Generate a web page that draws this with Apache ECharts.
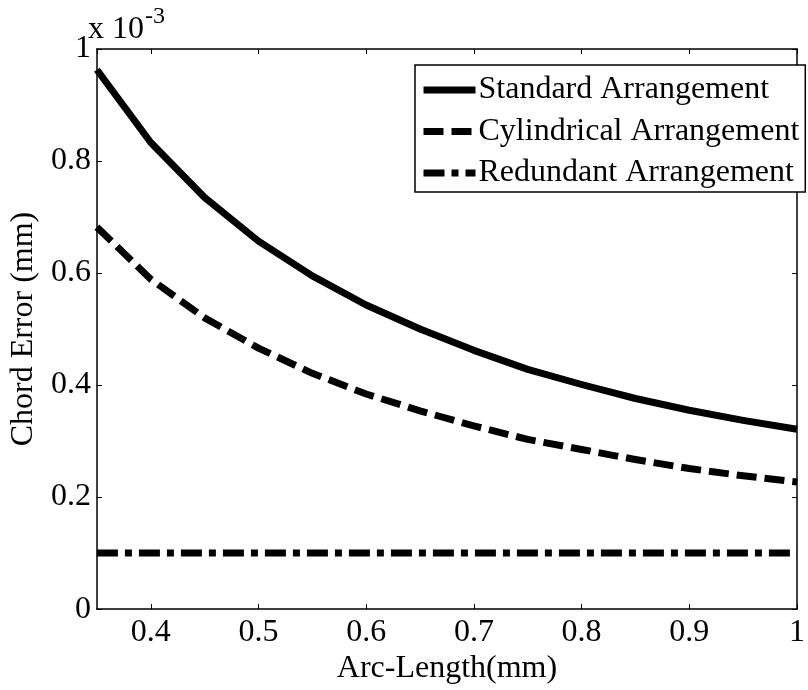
<!DOCTYPE html>
<html>
<head>
<meta charset="utf-8">
<script src="https://cdn.jsdelivr.net/npm/echarts@6/dist/echarts.min.js"></script>
<style>
  html, body { margin: 0; padding: 0; background: #fff; }
  #chart { width: 808px; height: 690px; }
</style>
</head>
<body>
<div id="chart"></div>
<script>
// Arc length of the segment (mm)
const arcLength = [0.35, 0.40, 0.45, 0.50, 0.55, 0.60, 0.65, 0.70, 0.75, 0.80, 0.85, 0.90, 0.95, 1.00];
// Chord error, in units of 1e-3 mm
const standardErr    = [0.963, 0.833, 0.735, 0.657, 0.595, 0.543, 0.500, 0.462, 0.428, 0.401, 0.376, 0.355, 0.337, 0.321];
const cylindricalErr = [0.682, 0.589, 0.520, 0.466, 0.421, 0.384, 0.354, 0.327, 0.303, 0.285, 0.267, 0.251, 0.238, 0.227];
const redundantErr   = [0.100, 0.100, 0.100, 0.100, 0.100, 0.100, 0.100, 0.100, 0.100, 0.100, 0.100, 0.100, 0.100, 0.100];
const seriesNames = ['Standard Arrangement', 'Cylindrical Arrangement', 'Redundant Arrangement'];
const yTicks = [0, 0.2, 0.4, 0.6, 0.8, 1];

const FONT = 'Liberation Serif, Times New Roman, serif';
const FS = 32;
const pairs = (ys) => arcLength.map((x, i) => [x, ys[i]]);

const chart = echarts.init(document.getElementById('chart'), null, { renderer: 'canvas' });

const axisBase = {
  axisLine: { show: true, onZero: false, lineStyle: { color: '#000', width: 1.5 } },
  axisTick: { show: true, inside: true, length: 5, lineStyle: { color: '#000', width: 1 } },
  splitLine: { show: false }
};

const lineSeries = (name, ys, type) => ({
  name,
  type: 'line',
  data: pairs(ys),
  symbol: 'none',
  smooth: false,
  lineStyle: { color: '#000', width: 7, type, cap: 'butt', join: 'round' },
  itemStyle: { color: '#000' },
  animation: false
});

chart.setOption({
  animation: false,
  backgroundColor: '#fff',
  textStyle: { fontFamily: FONT, color: '#000' },
  grid: { left: 88, right: 5, top: 49, bottom: 78, containLabel: false },
  graphic: [
    { type: 'text', left: 88, top: 14, style: { text: 'x 10', font: FS + 'px ' + FONT, fill: '#000' } },
    { type: 'text', left: 145, top: 5, style: { text: '-3', font: '24px ' + FONT, fill: '#000' } }
  ],
  xAxis: [
    Object.assign({}, axisBase, {
      type: 'value', position: 'bottom', min: 0.35, max: 1, splitNumber: 6,
      name: 'Arc-Length(mm)', nameLocation: 'middle', nameGap: 37,
      nameTextStyle: { fontSize: FS, fontFamily: FONT, color: '#000' },
      axisLabel: { fontSize: FS, fontFamily: FONT, color: '#000', margin: 7, showMinLabel: false,
        formatter: (v) => (Math.abs(v - 0.35) < 1e-6 ? '' : String(+v.toFixed(2))) }
    }),
    Object.assign({}, axisBase, {
      type: 'value', position: 'top', min: 0.35, max: 1, splitNumber: 6,
      axisLabel: { show: false }
    })
  ],
  yAxis: [
    Object.assign({}, axisBase, {
      type: 'value', position: 'left', min: yTicks[0], max: yTicks[yTicks.length - 1], interval: 0.2,
      name: 'Chord Error (mm)', nameLocation: 'middle', nameGap: 49,
      nameTextStyle: { fontSize: FS, fontFamily: FONT, color: '#000' },
      axisLabel: { fontSize: FS, fontFamily: FONT, color: '#000', margin: 6,
        formatter: (v) => String(+v.toFixed(1)) }
    }),
    Object.assign({}, axisBase, {
      type: 'value', position: 'right', min: yTicks[0], max: yTicks[yTicks.length - 1], interval: 0.2,
      axisLabel: { show: false }
    })
  ],
  legend: {
    data: seriesNames,
    orient: 'vertical',
    left: 415, top: 65,
    itemWidth: 52, itemHeight: 14, itemGap: 9.5,
    padding: [9, 6, 3, 5],
    backgroundColor: '#fff',
    borderColor: '#000', borderWidth: 1.5, borderRadius: 0,
    itemStyle: { opacity: 0 },
    lineStyle: { width: 7 },
    textStyle: { fontSize: FS, fontFamily: FONT, color: '#000', lineHeight: 32, padding: [0, 0, 0, -2] },
    selectedMode: false
  },
  series: [
    lineSeries(seriesNames[0], standardErr, 'solid'),
    lineSeries(seriesNames[1], cylindricalErr, [20, 8]),
    lineSeries(seriesNames[2], redundantErr, [21, 7, 7, 7])
  ]
});
</script>
</body>
</html>
